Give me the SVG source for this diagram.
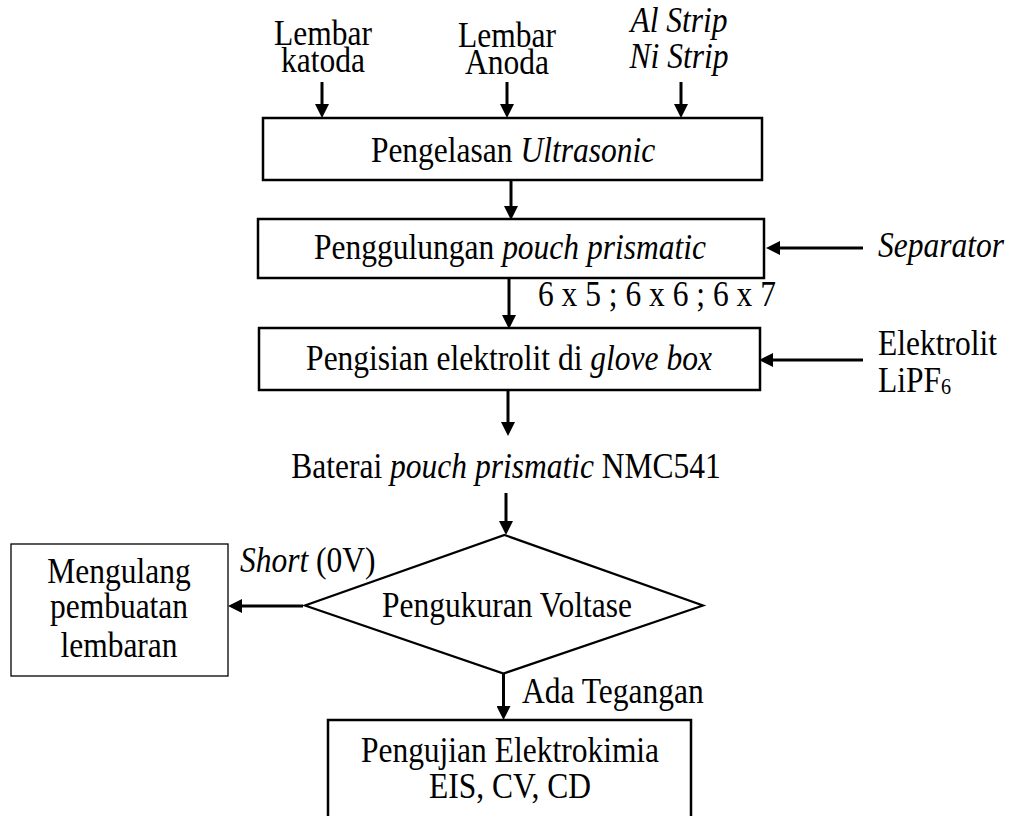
<svg xmlns="http://www.w3.org/2000/svg" width="1010" height="816" viewBox="0 0 1010 816">
<style>
text { font-family: "Liberation Serif", "Times New Roman", serif; font-size: 36px; fill: #000; }
.c { text-anchor: middle; }
.i { font-style: italic; }
.box { fill: #fff; stroke: #000; stroke-width: 2.5; }
.thin { fill: #fff; stroke: #000; stroke-width: 1.3; }
.dia { fill: #fff; stroke: #000; stroke-width: 2.2; }
.arr { stroke: #000; stroke-width: 3; fill: none; marker-end: url(#ah); }
</style>
<defs>
<marker id="ah" markerUnits="userSpaceOnUse" markerWidth="14" markerHeight="14" refX="6" refY="7" orient="auto">
<path d="M0,0 L14,7 L0,14 z" fill="#000"/>
</marker>
</defs>
<rect width="1010" height="816" fill="#fff"/>

<g id="connectors">
<line class="arr" x1="322" y1="82" x2="322" y2="110"/>
<line class="arr" x1="507" y1="82" x2="507" y2="110"/>
<line class="arr" x1="681" y1="82" x2="681" y2="110"/>
<line class="arr" x1="511" y1="180" x2="511" y2="212"/>
<line class="arr" x1="509" y1="278" x2="509" y2="321"/>
<line class="arr" x1="863" y1="248" x2="774" y2="248"/>
<line class="arr" x1="863" y1="360" x2="767" y2="360"/>
<line class="arr" x1="508" y1="390" x2="508" y2="428"/>
<line class="arr" x1="506" y1="493" x2="506" y2="527"/>
<line class="arr" x1="303" y1="606" x2="236" y2="606"/>
<line class="arr" x1="503.5" y1="674" x2="503.5" y2="712"/>
</g>

<g id="in-katoda">
<text class="c" transform="translate(323 45) scale(0.875 1)">Lembar</text>
<text class="c" transform="translate(323 72) scale(0.875 1)">katoda</text>
</g>
<g id="in-anoda">
<text class="c" transform="translate(507 47) scale(0.875 1)">Lembar</text>
<text class="c" transform="translate(507 74) scale(0.875 1)">Anoda</text>
</g>
<g id="in-strip">
<text class="c i" transform="translate(679 32) scale(0.875 1)">Al Strip</text>
<text class="c i" transform="translate(679 68) scale(0.875 1)">Ni Strip</text>
</g>

<g id="n-pengelasan">
<rect class="box" x="263" y="118" width="499" height="62"/>
<text class="c" transform="translate(513 162) scale(0.875 1)">Pengelasan <tspan class="i">Ultrasonic</tspan></text>
</g>

<g id="n-penggulungan">
<rect class="box" x="258" y="219" width="506" height="59"/>
<text class="c" transform="translate(510 259) scale(0.875 1)">Penggulungan <tspan class="i">pouch prismatic</tspan></text>
</g>
<g id="in-separator">
<text class="i" transform="translate(878 257) scale(0.875 1)">Separator</text>
</g>
<g id="lbl-ukuran">
<text transform="translate(538 306) scale(0.875 1)">6 x 5 ; 6 x 6 ; 6 x 7</text>
</g>

<g id="n-pengisian">
<rect class="box" x="259" y="328" width="501" height="62"/>
<text class="c" transform="translate(509 370) scale(0.875 1)">Pengisian elektrolit di <tspan class="i">glove box</tspan></text>
</g>
<g id="in-elektrolit">
<text transform="translate(878 355) scale(0.875 1)">Elektrolit</text>
<text transform="translate(878 392) scale(0.875 1)">LiPF<tspan font-size="23" dy="2">6</tspan></text>
</g>

<g id="n-baterai">
<text class="c" transform="translate(506 478) scale(0.875 1)">Baterai <tspan class="i">pouch prismatic</tspan> NMC541</text>
</g>

<g id="n-pengukuran">
<polygon class="dia" points="504.5,535 703,605.5 503.5,673.5 305,605.5"/>
<text class="c" transform="translate(507 617) scale(0.875 1)">Pengukuran Voltase</text>
</g>
<g id="lbl-short">
<text transform="translate(240 572) scale(0.875 1)"><tspan class="i">Short</tspan> (0V)</text>
</g>

<g id="n-mengulang">
<rect class="thin" x="11" y="544" width="217" height="132"/>
<text class="c" transform="translate(119 583) scale(0.875 1)">Mengulang</text>
<text class="c" transform="translate(119 618) scale(0.875 1)">pembuatan</text>
<text class="c" transform="translate(119 657) scale(0.875 1)">lembaran</text>
</g>

<g id="lbl-ada">
<text transform="translate(522 703) scale(0.875 1)">Ada Tegangan</text>
</g>

<g id="n-pengujian">
<rect class="box" x="328" y="720" width="363" height="100"/>
<text class="c" transform="translate(510 762) scale(0.875 1)">Pengujian Elektrokimia</text>
<text class="c" transform="translate(510 798) scale(0.875 1)">EIS, CV, CD</text>
</g>
</svg>
